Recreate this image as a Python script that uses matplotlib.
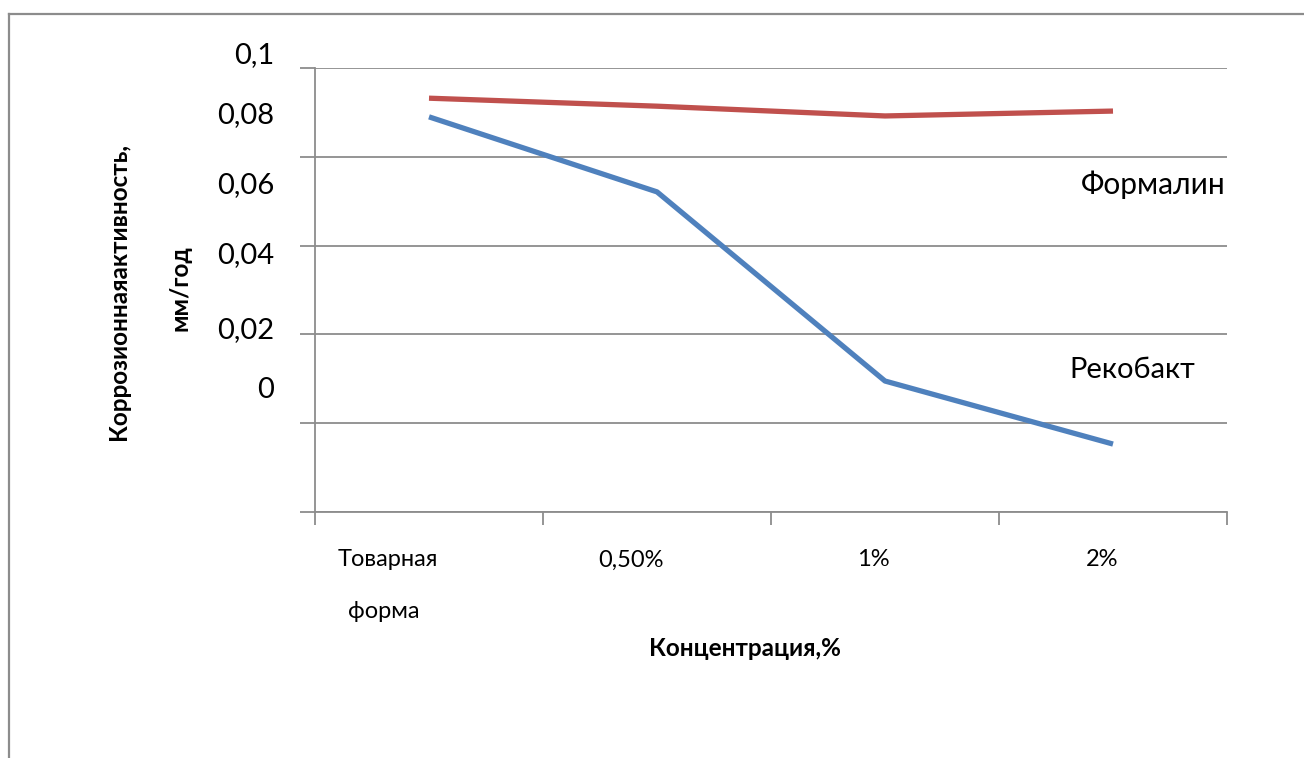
import matplotlib.pyplot as plt
from matplotlib.lines import Line2D

categories = ["Товарная\n\nформа", "0,50%", "1%", "2%"]
formalin = [0.0932, 0.0914, 0.0892, 0.0903]
rekobakt = [0.0890, 0.0721, 0.0295, 0.0153]
y_labels = ["0,1", "0,08", "0,06", "0,04", "0,02", "0"]

W, H = 1304, 758
fig = plt.figure(figsize=(W / 100, H / 100), dpi=100)
plt.rcParams['font.family'] = ['Lato', 'DejaVu Sans']

# outer frame (top and left only visible)
fig.add_artist(Line2D([9 / W, 1], [1 - 14 / H, 1 - 14 / H], color='#8c8c8c', lw=1.6))
fig.add_artist(Line2D([9 / W, 9 / W], [0, 1 - 14 / H], color='#8c8c8c', lw=1.6))

ax = fig.add_axes([315 / W, 1 - 512 / H, 912 / W, 444 / H])
x = range(len(categories))
ax.plot(x, formalin, color='#C0504D', lw=3.8, solid_capstyle='butt')
ax.plot(x, rekobakt, color='#4F81BD', lw=3.8, solid_capstyle='butt')

ax.set_xlim(-0.5, 3.5)
ax.set_ylim(0, 0.1)
ax.set_yticks([0, 0.02, 0.04, 0.06, 0.08, 0.1])
ax.set_xticks([-0.5, 0.5, 1.5, 2.5, 3.5])
ax.tick_params(axis='y', length=11, width=1.3, color='#8c8c8c', labelleft=False)
ax.tick_params(axis='x', length=9.5, width=1.3, color='#8c8c8c', labelbottom=False)
ax.grid(axis='y', color='#8c8c8c', lw=1.3)
for s in ['top', 'right']:
    ax.spines[s].set_visible(False)
for s in ['left', 'bottom']:
    ax.spines[s].set_color('#8c8c8c')
    ax.spines[s].set_linewidth(1.3)
ax.set_axisbelow(True)

def px(xp, yp):
    return xp / W, 1 - yp / H

# y tick labels, shifted like in the original
for lab, yp in zip(y_labels, [55, 115, 185, 255, 330, 390]):
    fig.text(*px(274, yp), lab, ha='right', va='center', fontsize=21)

# category labels
fig.text(*px(388, 560), "Товарная", ha='center', va='center', fontsize=17)
fig.text(*px(384, 612), "форма", ha='center', va='center', fontsize=17)
for lab, xp in zip(categories[1:], [631, 873, 1102]):
    fig.text(*px(xp, 560), lab, ha='center', va='center', fontsize=17)

fig.text(*px(745, 648), "Концентрация,%", ha='center', va='center',
         fontsize=17.5, fontweight='bold')
fig.text(*px(118, 292), "Коррозионнаяактивность,", ha='center', va='center',
         rotation=90, fontsize=17.5, fontweight='bold')
fig.text(*px(180, 288), "мм/год", ha='center', va='center',
         rotation=90, fontsize=17.5, fontweight='bold')

fig.text(*px(1153, 185), "Формалин", ha='center', va='center', fontsize=21.5)
fig.text(*px(1132, 370), "Рекобакт", ha='center', va='center', fontsize=21)

fig.savefig("out.png", dpi=100)
